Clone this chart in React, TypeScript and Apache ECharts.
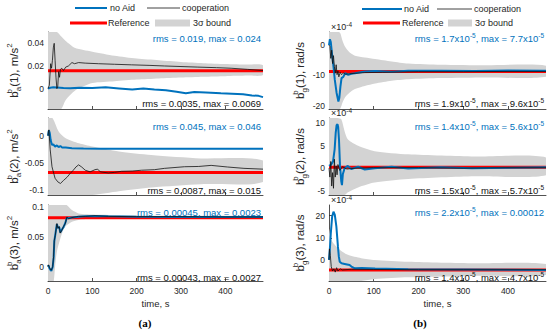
import React, { useEffect, useRef } from 'react';
import * as echarts from 'echarts';

const FONT = '"Liberation Sans", Arial, Helvetica, sans-serif';
const BLUE = '#0072BD';
const RED = '#FF0000';
const BAND = '#D3D3D3';
const AXIS = '#262626';

const xTicks = [0, 100, 200, 300, 400];
const xMax = 485;

// ---------- (a) panel 1 : b_a^b(1) ----------
const a1NoAidT = [0, 5, 12, 20, 35, 50, 70, 100, 130, 160, 190, 215, 240, 266, 290, 311, 330, 356, 390, 415, 440, 460, 475, 485];
const a1NoAidV = [0, 0.0008, 0.0012, 0.001, 0.0006, 0.0004, 0.0008, 0.0005, 0.0012, 0.0002, -0.0008, 0.0002, -0.0008, -0.0015, -0.0028, -0.004, -0.003, -0.0035, -0.0042, -0.0046, -0.005, -0.006, -0.0064, -0.0075];
const a1CoopT = [0, 3, 6, 8, 10, 12, 14, 16, 18, 20, 22, 24, 26, 28, 31, 35, 40, 46, 54, 60, 69, 84, 114, 150, 188, 230, 263, 300, 338, 380, 413, 450, 485];
const a1CoopV = [0, 0.003, 0.022, 0.018, 0.025, 0.036, 0.04, 0.025, 0.01, 0.0, 0.002, 0.015, 0.01, 0.017, 0.018, 0.016, 0.019, 0.02, 0.023, 0.022, 0.023, 0.0225, 0.022, 0.0215, 0.021, 0.0205, 0.02, 0.0195, 0.019, 0.0185, 0.018, 0.017, 0.016];
const a1Ref = 0.0157;
const a1BandT = [0, 10, 20, 30, 40, 60, 80, 100, 150, 200, 250, 300, 350, 400, 450, 485];
const a1BandHi = [0.3, 0.1, 0.052, 0.046, 0.042, 0.036, 0.034, 0.0326, 0.029, 0.0265, 0.025, 0.0235, 0.0225, 0.0218, 0.0212, 0.0207];
const a1BandLo = [-0.3, -0.1, -0.04, -0.02, -0.01, -0.002, 0.002, 0.005, 0.0065, 0.008, 0.009, 0.0098, 0.0105, 0.011, 0.0115, 0.012];
const a1Ticks = [0, 0.02, 0.04];

// ---------- (a) panel 2 : b_a^b(2) ----------
const a2NoAidT = [0, 2, 4, 6, 9, 12, 16, 20, 24, 28, 32, 40, 54, 80, 120, 200, 300, 400, 485];
const a2NoAidV = [0, 0.01, 0.005, -0.008, -0.017, -0.016, -0.02, -0.018, -0.021, -0.019, -0.022, -0.022, -0.023, -0.0235, -0.024, -0.024, -0.024, -0.0242, -0.0243];
const a2CoopT = [0, 1, 2, 5, 9, 13, 16, 22, 28, 35, 43, 50, 57, 63, 69, 76, 84, 95, 106, 112, 118, 136, 150, 166, 190, 211, 240, 263, 308, 340, 368, 405, 442, 485];
const a2CoopV = [0, 0.009, 0.011, -0.026, -0.0575, -0.07, -0.079, -0.0855, -0.0886, -0.083, -0.077, -0.07, -0.064, -0.058, -0.054, -0.058, -0.064, -0.067, -0.063, -0.062, -0.067, -0.069, -0.068, -0.066, -0.0655, -0.064, -0.063, -0.0605, -0.0575, -0.057, -0.055, -0.058, -0.0605, -0.062];
const a2Ref = -0.068;
const a2BandT = [0, 10, 24, 39, 70, 100, 160, 233, 345, 485];
const a2BandHi = [0.3, 0.05, 0.008, -0.004, -0.014, -0.02, -0.029, -0.0356, -0.042, -0.046];
const a2BandLo = [-0.4, -0.2, -0.14, -0.128, -0.118, -0.112, -0.103, -0.096, -0.09, -0.086];
const a2Ticks = [-0.1, -0.05, 0];

// ---------- (a) panel 3 : b_a^b(3) ----------
const a3T = [0, 1, 3, 5, 7.5, 10.5, 12.7, 14.2, 16.4, 20, 22.4, 25.4, 27.6, 31.4, 35, 39, 42.6, 46, 54, 69, 84, 106, 136, 200, 300, 400, 485];
const a3NoAidV = [0, 0.002, -0.002, -0.005, -0.007, -0.001, 0.015, 0.042, 0.053, 0.071, 0.065, 0.066, 0.057, 0.062, 0.066, 0.073, 0.082, 0.081, 0.082, 0.0835, 0.084, 0.0845, 0.084, 0.0835, 0.083, 0.083, 0.083];
const a3CoopV = [0, 0.003, -0.001, -0.004, -0.006, 0, 0.017, 0.044, 0.052, 0.072, 0.064, 0.067, 0.056, 0.061, 0.067, 0.072, 0.083, 0.08, 0.082, 0.084, 0.084, 0.085, 0.084, 0.0835, 0.0835, 0.083, 0.083];
const a3Ref = 0.0815;
const a3BandT = [0, 10, 13, 16, 20, 27, 35, 42, 54, 69, 85, 120, 200, 300, 485];
const a3BandHi = [0.4, 0.3, 0.25, 0.2, 0.16, 0.13, 0.11, 0.103, 0.0945, 0.089, 0.0875, 0.0865, 0.0855, 0.085, 0.0845];
const a3BandLo = [-0.3, -0.08, -0.025, 0.0, 0.025, 0.045, 0.062, 0.069, 0.075, 0.078, 0.0795, 0.08, 0.0805, 0.081, 0.0815];
const a3Ticks = [0, 0.05, 0.1];

// ---------- (b) panel 1 : b_g^b(1), x1e-4 ----------
const b1NoAidT = [0, 2, 4, 7, 10, 13, 17, 21, 23, 25.5, 28, 32, 36, 43, 50, 58, 80, 103, 140, 177, 251, 326, 400, 485];
const b1NoAidV = [0, 1.9, 1.0, -3.3, -7.1, -11.5, -15.8, -18.6, -17.5, -13.7, -10.9, -10.5, -9.3, -9.8, -9.5, -9.3, -8.7, -8.6, -8.8, -8.5, -8.5, -8.6, -8.4, -8.5];
const b1CoopT = [0, 2, 4, 6, 8, 10, 12, 14, 16, 18, 20, 22, 25, 28, 32, 36, 45, 60, 80, 120, 200, 300, 400, 485];
const b1CoopV = [0, -0.5, -4.4, -1.7, -6.1, -3.5, -7.1, -9.3, -6.5, -9.8, -8.5, -10.5, -9.0, -9.8, -9.2, -9.6, -9.5, -9.3, -9.1, -9.0, -8.8, -8.8, -8.7, -8.7];
const b1Ref = -8.7;
const b1BandT = [0, 10, 20, 25, 30, 36, 45, 58, 80, 103, 140, 177, 250, 350, 485];
const b1BandHi = [30, 15, 6, 4, 1.5, -0.6, -2.3, -3.5, -4.1, -4.6, -5.4, -6.1, -6.5, -6.7, -6.8];
const b1BandLo = [-40, -30, -23, -21, -19, -17.2, -15.8, -14.5, -13.5, -12.7, -11.8, -11.3, -10.9, -10.7, -10.5];
const b1Ticks = [-20, -10, 0];

// ---------- (b) panel 2 : b_g^b(2), x1e-4 ----------
const b2NoAidT = [0, 5, 9, 12.6, 15, 17, 19, 20.5, 22.3, 24.6, 27.5, 29, 31, 35, 42, 50, 65, 80, 102, 140, 177, 250, 320, 400, 485];
const b2NoAidV = [0.5, 0.8, 1.5, 4.2, 7.9, 9.6, 9.8, 9.2, 6.4, 0.5, -3.0, -3.8, -1.3, 0.0, 0.5, -0.2, 0.3, -0.3, 0, 0.3, -0.1, 0.2, 0.0, 0.1, 0.2];
const b2CoopT = [0, 2, 4, 6, 8, 10, 12, 14, 16, 18, 20, 24, 30, 40, 60, 100, 200, 300, 400, 485];
const b2CoopV = [0, -2, 1.5, -4, -1, -4.5, 2, -2, 0.5, -1.5, 0.8, -0.5, 0.3, -0.2, 0, 0.1, 0.1, 0.0, 0.1, 0.1];
const b2Ref = 0.2;
const b2BandT = [0, 10, 20, 27.5, 35, 42.4, 65, 102, 177, 326, 485];
const b2BandHi = [40, 25, 15, 10.9, 8.2, 6.4, 5.0, 3.8, 3.1, 2.6, 2.4];
const b2BandLo = [-40, -25, -12, -7.5, -6.2, -5.4, -4.3, -3.2, -2.4, -1.8, -1.6];
const b2Ticks = [-5, 0, 5, 10];

// ---------- (b) panel 3 : b_g^b(3), x1e-4 ----------
const b3NoAidT = [0, 2, 4, 7, 10, 13, 16.5, 20, 22, 24, 28, 35, 46, 50, 58, 73, 103, 177, 300, 485];
const b3NoAidV = [0, 5, 12, 19.5, 21.8, 20.3, 15, 6, 1.5, -0.8, -1.5, -1.8, -2.3, -3, -3.8, -3.6, -3.9, -4.2, -4.3, -4.5];
const b3CoopT = [0, 1, 3, 5, 8, 11, 14, 17, 20, 25, 30, 50, 100, 200, 300, 485];
const b3CoopV = [0, 5, 2, -3, -5, -4, -5.5, -3.5, -5, -4, -4.5, -4.2, -4.3, -4.4, -4.4, -4.4];
const b3Ref = -4.5;
const b3BandT = [0, 5.3, 20, 42, 72, 102, 177, 326, 485];
const b3BandHi = [14, 9, 5.3, 2.3, 0.8, 0, -0.8, -1.5, -1.8];
const b3BandLo = [-40, -25, -16, -12, -9.8, -8.6, -7.8, -7.2, -6.8];
const b3Ticks = [0, 10, 20];

// annotation texts
const blueNotes = [
  'rms = 0.019, max = 0.024',
  'rms = 0.045, max = 0.046',
  'rms = 0.00045, max = 0.0023',
  'rms = 1.7x10{s|-5}, max = 7.7x10{s|-5}',
  'rms = 1.4x10{s|-5}, max = 5.6x10{s|-5}',
  'rms = 2.2x10{s|-5}, max = 0.00012',
];
const blackNotes = [
  'rms = 0.0035, max = 0.0069',
  'rms = 0.0087, max = 0.015',
  'rms = 0.00043, max = 0.0027',
  'rms = 1.9x10{s|-5}, max = 9.6x10{s|-5}',
  'rms = 1.5x10{s|-5}, max = 5.7x10{s|-5}',
  'rms = 1.4x10{s|-5}, max = 4.7x10{s|-5}',
];
const yNames = [
  '{n|b}{sp|b}{sb|a}{n|(1), m/s}{s2|2}',
  '{n|b}{sp|b}{sb|a}{n|(2), m/s}{s2|2}',
  '{n|b}{sp|b}{sb|a}{n|(3), m/s}{s2|2}',
  '{n|b}{sp|b}{sb|g}{n|(1), rad/s}',
  '{n|b}{sp|b}{sb|g}{n|(2), rad/s}',
  '{n|b}{sp|b}{sb|g}{n|(3), rad/s}',
];
const legendLabels = ['no Aid', 'cooperation', 'Reference', '3\u03c3 bound'];

const zip = (t: number[], v: number[]) => t.map((x, i) => [x, v[i]]);

type Panel = {
  grid: { left: number; top: number; width: number; height: number };
  yMin: number; yMax: number; ticks: number[];
  noAid: number[][]; coop: number[][]; ref: number;
  bandT: number[]; bandHi: number[]; bandLo: number[];
  bottom: boolean;
};

const LX = 48, LW = 215, RX = 329, RW = 217;
const rows = [
  { top: 32, height: 77 },
  { top: 118, height: 77 },
  { top: 205, height: 76 },
];

const panels: Panel[] = [
  { grid: { left: LX, width: LW, ...rows[0] }, yMin: -0.018, yMax: 0.05, ticks: a1Ticks, noAid: zip(a1NoAidT, a1NoAidV), coop: zip(a1CoopT, a1CoopV), ref: a1Ref, bandT: a1BandT, bandHi: a1BandHi, bandLo: a1BandLo, bottom: false },
  { grid: { left: LX, width: LW, ...rows[1] }, yMin: -0.11, yMax: 0.033, ticks: a2Ticks, noAid: zip(a2NoAidT, a2NoAidV), coop: zip(a2CoopT, a2CoopV), ref: a2Ref, bandT: a2BandT, bandHi: a2BandHi, bandLo: a2BandLo, bottom: false },
  { grid: { left: LX, width: LW, ...rows[2] }, yMin: -0.024, yMax: 0.103, ticks: a3Ticks, noAid: zip(a3T, a3NoAidV), coop: zip(a3T, a3CoopV), ref: a3Ref, bandT: a3BandT, bandHi: a3BandHi, bandLo: a3BandLo, bottom: true },
  { grid: { left: RX, width: RW, ...rows[0] }, yMin: -21.1, yMax: 4.3, ticks: b1Ticks, noAid: zip(b1NoAidT, b1NoAidV), coop: zip(b1CoopT, b1CoopV), ref: b1Ref, bandT: b1BandT, bandHi: b1BandHi, bandLo: b1BandLo, bottom: false },
  { grid: { left: RX, width: RW, ...rows[1] }, yMin: -6, yMax: 11.2, ticks: b2Ticks, noAid: zip(b2NoAidT, b2NoAidV), coop: zip(b2CoopT, b2CoopV), ref: b2Ref, bandT: b2BandT, bandHi: b2BandHi, bandLo: b2BandLo, bottom: false },
  { grid: { left: RX, width: RW, ...rows[2] }, yMin: -9.5, yMax: 24.8, ticks: b3Ticks, noAid: zip(b3NoAidT, b3NoAidV), coop: zip(b3CoopT, b3CoopV), ref: b3Ref, bandT: b3BandT, bandHi: b3BandHi, bandLo: b3BandLo, bottom: true },
];

function txt(x: number, y: number, text: string, opts: any = {}) {
  const align = opts.align || 'left';
  const va = opts.verticalAlign || 'middle';
  return {
    type: 'text', x, y, rotation: opts.rotation || 0, silent: true, z: 100,
    style: {
      text, fill: opts.fill || AXIS,
      fontSize: opts.fontSize || 9, fontFamily: opts.fontFamily || FONT, fontWeight: opts.fontWeight || 'normal',
      align, textAlign: align, verticalAlign: va, textVerticalAlign: va,
      rich: opts.rich,
    },
  };
}

function buildOption() {
  const grid: any[] = [];
  const xAxis: any[] = [];
  const yAxis: any[] = [];
  const series: any[] = [];
  const graphic: any[] = [];

  panels.forEach((p, i) => {
    grid.push({ ...p.grid, containLabel: false });
    xAxis.push({
      type: 'value', gridIndex: i, min: 0, max: xMax,
      axisLine: { show: true, onZero: false, lineStyle: { color: AXIS, width: 0.8 } },
      axisTick: { show: true, inside: true, length: 3, customValues: xTicks, lineStyle: { color: AXIS, width: 0.8 } },
      axisLabel: { show: p.bottom, customValues: xTicks, fontSize: 8.5, color: AXIS, fontFamily: FONT, margin: 5 },
      splitLine: { show: false },
      name: p.bottom ? 'time, s' : '', nameLocation: 'middle', nameGap: 17,
      nameTextStyle: { fontSize: 9.5, color: AXIS, fontFamily: FONT },
    });
    yAxis.push({
      type: 'value', gridIndex: i, min: p.yMin, max: p.yMax,
      axisLine: { show: true, onZero: false, lineStyle: { color: AXIS, width: 0.8 } },
      axisTick: { show: true, inside: true, length: 3, customValues: p.ticks, lineStyle: { color: AXIS, width: 0.8 } },
      axisLabel: { customValues: p.ticks, fontSize: 8.5, color: AXIS, fontFamily: FONT, margin: 4 },
      splitLine: { show: false },
    });
    const common = { xAxisIndex: i, yAxisIndex: i, symbol: 'none', showSymbol: false, silent: true, animation: false };

    // 3-sigma band as a polygon built from the axis scales (custom series)
    const bandData = p.bandT.map((t, k) => [t, p.bandLo[k], p.bandHi[k]]);
    const yMin = p.yMin, yMax = p.yMax;
    const clampY = (v: number) => Math.max(yMin, Math.min(yMax, v));
    series.push({
      type: 'custom', xAxisIndex: i, yAxisIndex: i, silent: true, clip: true, z: 1,
      data: bandData,
      encode: { x: 0, y: [1, 2] },
      renderItem: (params: any, api: any) => {
        if (params.dataIndex !== 0) return null;
        const upper: number[][] = [];
        const lower: number[][] = [];
        for (let k = 0; k < bandData.length; k++) {
          const d = bandData[k];
          upper.push(api.coord([d[0], clampY(d[2])]));
          lower.push(api.coord([d[0], clampY(d[1])]));
        }
        const pts = upper.concat(lower.reverse());
        return { type: 'polygon', shape: { points: pts, smooth: 0.25 }, style: { fill: BAND, stroke: 'none' } };
      },
    });
    series.push({ ...common, type: 'line', z: 2, data: [[0, p.ref], [xMax, p.ref]], lineStyle: { color: RED, width: 3 } });
    series.push({ ...common, type: 'line', z: 3, data: p.noAid, lineStyle: { color: BLUE, width: 2 } });
    series.push({ ...common, type: 'line', z: 4, data: p.coop, lineStyle: { color: '#111', width: 0.8 } });

    const rightEdge = p.grid.left + p.grid.width - 2;
    const sStyle = { fontSize: 6.5, fontFamily: FONT, verticalAlign: 'top', lineHeight: 12 };
    const blueTopY = [38, 126, 212][i % 3];
    const blackBotY = [103, 190, 277][i % 3];
    graphic.push(txt(rightEdge, blueTopY, blueNotes[i], {
      align: 'right', fontSize: 9.5, fill: BLUE,
      rich: { s: { ...sStyle, fill: BLUE } },
    }));
    graphic.push(txt(rightEdge, blackBotY, blackNotes[i], {
      align: 'right', fontSize: 9.5, fill: '#111',
      rich: { s: { ...sStyle, fill: '#111' } },
    }));

    const yl = {
      n: { fontSize: 11.5, fontFamily: FONT, fill: AXIS, lineHeight: 17, verticalAlign: 'middle' },
      sp: { fontSize: 8, fontFamily: FONT, fill: AXIS, lineHeight: 17, verticalAlign: 'top', width: 0 },
      sb: { fontSize: 8, fontFamily: FONT, fill: AXIS, lineHeight: 17, verticalAlign: 'bottom' },
      s2: { fontSize: 8, fontFamily: FONT, fill: AXIS, lineHeight: 17, verticalAlign: 'top' },
    };
    const ylx = i < 3 ? 14 : 300;
    graphic.push(txt(ylx, p.grid.top + p.grid.height / 2, yNames[i], {
      align: 'center', rotation: Math.PI / 2, rich: yl, fontSize: 11.5,
    }));

    if (i >= 3) {
      graphic.push(txt(331, p.grid.top - 5, '\u00d710{s|-4}', {
        fontSize: 9, fill: AXIS,
        rich: { s: { ...sStyle, fill: AXIS } },
      }));
    }
  });

  // legends
  const legendSets = [
    { blue: [75, 107], black: [147, 180], red: [70, 107], box: [155, 190], y1: 8, y2: 23, t: [110, 182, 108, 193] },
    { blue: [362, 402], black: [437, 472], red: [363, 400], box: [448, 472], y1: 9, y2: 23, t: [404, 474, 402, 475] },
  ];
  legendSets.forEach((L) => {
    graphic.push({ type: 'line', silent: true, shape: { x1: L.blue[0], y1: L.y1, x2: L.blue[1], y2: L.y1 }, style: { stroke: BLUE, lineWidth: 2 } });
    graphic.push({ type: 'line', silent: true, shape: { x1: L.black[0], y1: L.y1, x2: L.black[1], y2: L.y1 }, style: { stroke: '#111', lineWidth: 0.8 } });
    graphic.push({ type: 'line', silent: true, shape: { x1: L.red[0], y1: L.y2, x2: L.red[1], y2: L.y2 }, style: { stroke: RED, lineWidth: 3 } });
    graphic.push({ type: 'rect', silent: true, shape: { x: L.box[0], y: L.y2 - 3.5, width: L.box[1] - L.box[0], height: 7 }, style: { fill: BAND } });
    graphic.push(txt(L.t[0], L.y1, legendLabels[0], { fontSize: 9 }));
    graphic.push(txt(L.t[1], L.y1, legendLabels[1], { fontSize: 9 }));
    graphic.push(txt(L.t[2], L.y2, legendLabels[2], { fontSize: 9 }));
    graphic.push(txt(L.t[3], L.y2, legendLabels[3], { fontSize: 9 }));
  });

  graphic.push(txt(145, 323, '(a)', { align: 'center', fontSize: 11, fontWeight: 'bold', fontFamily: '"Liberation Serif", "Times New Roman", serif', fill: '#000' }));
  graphic.push(txt(420, 323, '(b)', { align: 'center', fontSize: 11, fontWeight: 'bold', fontFamily: '"Liberation Serif", "Times New Roman", serif', fill: '#000' }));

  return {
    animation: false,
    backgroundColor: '#ffffff',
    grid, xAxis, yAxis, series, graphic,
  };
}

export default function App() {
  const ref = useRef<HTMLDivElement>(null);
  useEffect(() => {
    if (!ref.current) return;
    const chart = echarts.init(ref.current, undefined, { renderer: 'svg' });
    chart.setOption(buildOption() as any);
    return () => chart.dispose();
  }, []);
  return (
    <div
      ref={ref}
      style={{ position: 'fixed', left: 0, top: 0, width: 550, height: 333, background: '#fff' }}
    />
  );
}
